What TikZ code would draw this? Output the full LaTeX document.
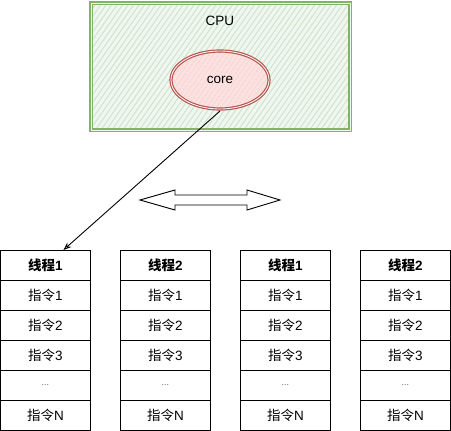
\documentclass[tikz,border=0pt]{standalone}
\usepackage{fontspec}
\setmainfont{Liberation Sans}
\newfontfamily\cjk{Noto Sans CJK SC}
\usetikzlibrary{patterns.meta,arrows.meta,shapes.geometric}
\definecolor{gfill}{HTML}{D5E8D4}
\definecolor{gline}{HTML}{82B366}
\definecolor{rfill}{HTML}{F8CECC}
\definecolor{rline}{HTML}{B85450}
\begin{document}
\begin{tikzpicture}[x=1pt,y=-1pt,
  cell/.style={draw=black,line width=0.9pt,fill=white,minimum width=90pt,minimum height=30pt,inner sep=0pt,font=\fontsize{13.5}{15}\selectfont,anchor=north west},
  head/.style={cell,font=\fontsize{13.5}{15}\selectfont\bfseries},
  lbl/.style={font=\fontsize{13.5}{15}\selectfont}]
\useasboundingbox (0,0) rectangle (451,431);
% CPU box
\node[draw=gline,line width=1.5pt,double=gfill!40,double distance=1pt,
  preaction={fill=gfill!35},pattern={Lines[angle=55,distance=4.5pt,line width=0.9pt]},pattern color=gfill!90!gline,
  minimum width=259pt,minimum height=127pt,anchor=north west] (cpu) at (91,3) {};
\node[lbl] (cputxt) at (220,21) {CPU};
\node[ellipse,draw=rline,line width=1.2pt,double=white,double distance=0.8pt,
  preaction={fill=rfill!60},pattern={Lines[angle=55,distance=4pt,line width=0.9pt]},pattern color=rfill!90!rline,
  minimum width=98pt,minimum height=58pt,inner sep=0pt] (core) at (220,80) {};
\node[lbl] (coretxt) at (220,80) {core};
% columns
\foreach \c/\x/\t in {1/0/1,2/120/2,3/240/1,4/360/2}{
  \node[head] (h\c) at (\x,250) {{\cjk\bfseries 线程}\t};
  \node[cell] (a\c) at (\x,280) {{\cjk 指令}1};
  \node[cell] (b\c) at (\x,310) {{\cjk 指令}2};
  \node[cell] (d\c) at (\x,340) {{\cjk 指令}3};
  \node[cell] (e\c) at (\x,370) {\fontsize{9}{10}\selectfont\color{black!60}...};
  \node[cell] (f\c) at (\x,400) {{\cjk 指令}N};
}
% arrow from core to thread 1
\coordinate (cs) at (220,111);
\draw[line width=0.9pt,-{Stealth[length=8pt,width=6pt,open]}] (cs) -- ([xshift=18pt]h1.north);
% double arrow
\draw[line width=0.9pt,fill=white] (140,200) -- (175,190) -- (175,195) -- (247,195) -- (247,190) -- (280,200)
  -- (247,210) -- (247,205) -- (175,205) -- (175,210) -- cycle;
\end{tikzpicture}
\end{document}
